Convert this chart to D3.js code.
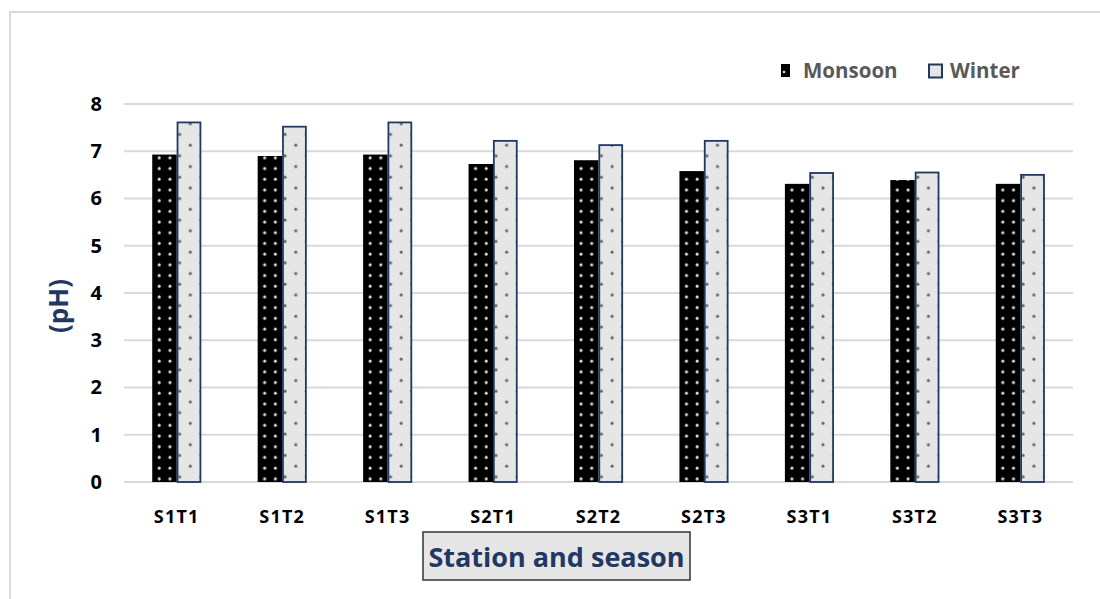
<!DOCTYPE html>
<html>
<head>
<meta charset="utf-8">
<script src="https://cdn.jsdelivr.net/npm/d3@7"></script>
<style>
  html, body { margin: 0; padding: 0; background: #fff; }
  svg { display: block; }
</style>
</head>
<body>
<svg id="chart" width="1100" height="599"></svg>
<script>
// pH per sampling station, monsoon vs winter
const stations = ["S1T1", "S1T2", "S1T3", "S2T1", "S2T2", "S2T3", "S3T1", "S3T2", "S3T3"];
const monsoon = [6.93, 6.90, 6.93, 6.73, 6.81, 6.58, 6.31, 6.39, 6.31];
const winter  = [7.61, 7.52, 7.61, 7.22, 7.13, 7.22, 6.54, 6.55, 6.50];
const seriesNames = ["Monsoon", "Winter"];
const yTicks = [0, 1, 2, 3, 4, 5, 6, 7, 8];

const svg = d3.select("#chart");
const font = "'Open Sans', 'Noto Sans', sans-serif";

// outer frame
svg.append("rect")
  .attr("x", 10).attr("y", 12)
  .attr("width", 1100).attr("height", 600)
  .attr("fill", "none").attr("stroke", "#d9d9d9").attr("stroke-width", 2);

// fill patterns
const defs = svg.append("defs");
const pm = defs.append("pattern")
  .attr("id", "dotsDark").attr("patternUnits", "userSpaceOnUse")
  .attr("width", 10.7).attr("height", 10.7).attr("x", 2).attr("y", 3);
pm.append("rect").attr("width", 10.7).attr("height", 10.7).attr("fill", "#000");
pm.append("circle").attr("cx", 5).attr("cy", 5).attr("r", 1.5).attr("fill", "#dcdcdc");

const pw = defs.append("pattern")
  .attr("id", "dotsLight").attr("patternUnits", "userSpaceOnUse")
  .attr("width", 21.4).attr("height", 21.4).attr("x", 2).attr("y", 1);
pw.append("rect").attr("width", 21.4).attr("height", 21.4).attr("fill", "#e7e6e6");
pw.append("circle").attr("cx", 4).attr("cy", 5).attr("r", 1.5).attr("fill", "#666");
pw.append("circle").attr("cx", 14.7).attr("cy", 15.7).attr("r", 1.5).attr("fill", "#666");

const plotLeft = 124, plotRight = 1073, plotTop = 104, plotBottom = 482;

const x = d3.scaleBand().domain(stations).range([plotLeft, plotRight]).paddingInner(0).paddingOuter(0);
const xs = d3.scaleBand().domain(seriesNames).range([0, 49]);
const y = d3.scaleLinear().domain([0, 8]).range([plotBottom, plotTop]);

// gridlines
svg.append("g")
  .selectAll("line")
  .data(yTicks)
  .join("line")
  .attr("x1", plotLeft).attr("x2", plotRight)
  .attr("y1", d => y(d)).attr("y2", d => y(d))
  .attr("stroke", "#d9d9d9").attr("stroke-width", 2);

// y tick labels
const yAxis = d3.axisLeft(y).tickValues(yTicks).tickSize(0).tickPadding(0);
const gy = svg.append("g").attr("transform", `translate(${plotLeft - 22},0)`).call(yAxis);
gy.select(".domain").remove();
gy.selectAll("text")
  .attr("font-family", font).attr("font-weight", "bold")
  .attr("font-size", 20).attr("fill", "#000");

// x tick labels
const xAxis = d3.axisBottom(x).tickSize(0).tickPadding(0);
const gx = svg.append("g").attr("transform", `translate(0,${plotBottom + 28})`).call(xAxis);
gx.select(".domain").remove();
gx.selectAll("text")
  .attr("font-family", font).attr("font-weight", "bold")
  .attr("font-size", 18).attr("letter-spacing", 1.2).attr("fill", "#000");

// bars
const groups = svg.append("g").selectAll("g")
  .data(stations.map((s, i) => ({ s, m: monsoon[i], w: winter[i] })))
  .join("g")
  .attr("transform", d => `translate(${x(d.s) + x.bandwidth() / 2 - 24.5},0)`);

groups.append("rect")
  .attr("x", xs("Monsoon"))
  .attr("y", d => y(d.m))
  .attr("width", xs.bandwidth())
  .attr("height", d => y(0) - y(d.m))
  .attr("fill", "url(#dotsDark)");

groups.append("rect")
  .attr("x", d => xs("Winter") + 0.8)
  .attr("y", d => y(d.w))
  .attr("width", xs.bandwidth() - 1.6)
  .attr("height", d => y(0) - y(d.w))
  .attr("fill", "url(#dotsLight)")
  .attr("stroke", "#1f3864").attr("stroke-width", 1.8);

// legend
const legend = svg.append("g");
legend.append("rect")
  .attr("x", 781).attr("y", 64).attr("width", 9).attr("height", 13)
  .attr("fill", "#000");
legend.append("circle")
  .attr("cx", 784).attr("cy", 72).attr("r", 1.3).attr("fill", "#dcdcdc");
legend.append("rect")
  .attr("x", 929).attr("y", 64.5).attr("width", 13).attr("height", 13)
  .attr("fill", "#e7e6e6").attr("stroke", "#1f3864").attr("stroke-width", 2);
legend.selectAll("text")
  .data([{ name: seriesNames[0], x: 803 }, { name: seriesNames[1], x: 950 }])
  .join("text")
  .attr("x", d => d.x).attr("y", 78)
  .attr("font-family", font).attr("font-weight", "bold")
  .attr("font-size", 20.5).attr("fill", "#595959")
  .text(d => d.name);

// y axis title
svg.append("text")
  .attr("transform", `translate(68,306) rotate(-90)`)
  .attr("text-anchor", "middle")
  .attr("font-family", font).attr("font-weight", "bold")
  .attr("font-size", 26).attr("fill", "#1f3864")
  .text("(pH)");

// x axis title in a box
svg.append("rect")
  .attr("x", 423).attr("y", 532).attr("width", 267).attr("height", 48)
  .attr("fill", "#e6e6e6").attr("stroke", "#333").attr("stroke-width", 1.5);
svg.append("text")
  .attr("x", 556.5).attr("y", 567)
  .attr("text-anchor", "middle")
  .attr("font-family", font).attr("font-weight", "bold")
  .attr("font-size", 27).attr("fill", "#1f3864")
  .text("Station and season");
</script>
</body>
</html>
